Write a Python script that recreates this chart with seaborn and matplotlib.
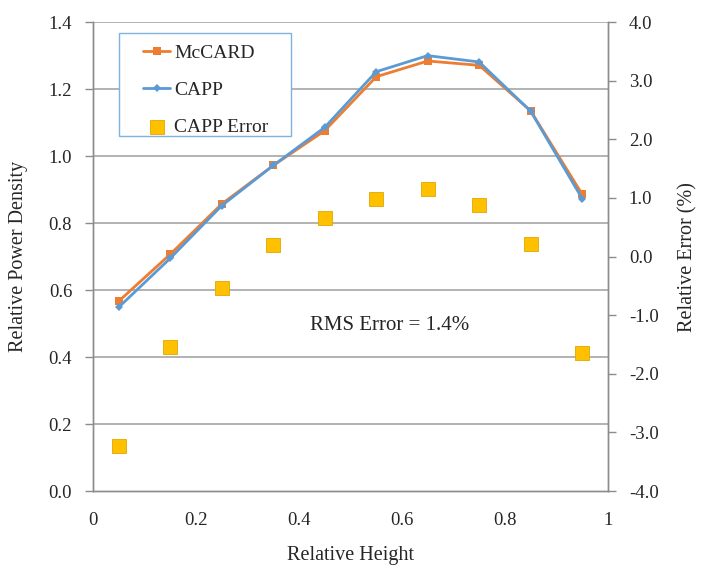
import matplotlib
matplotlib.use('Agg')
import numpy as np
import pandas as pd
import matplotlib.pyplot as plt
import seaborn as sns
from matplotlib.patches import Rectangle

# data
height = [0.05, 0.15, 0.25, 0.35, 0.45, 0.55, 0.65, 0.75, 0.85, 0.95]
mccard = [0.567, 0.707, 0.857, 0.972, 1.076, 1.237, 1.284, 1.271, 1.135, 0.886]
capp = [0.549, 0.695, 0.852, 0.972, 1.086, 1.252, 1.300, 1.281, 1.134, 0.873]
capp_err = [-3.23, -1.54, -0.53, 0.19, 0.65, 0.99, 1.16, 0.88, 0.21, -1.64]

sns.set_style("white")
plt.rcParams['font.family'] = ['Liberation Serif', 'DejaVu Serif']

df = pd.DataFrame({'x': height, 'McCARD': mccard, 'CAPP': capp, 'err': capp_err})

grid_c = '#a6a6a6'
spine_c = '#8c8c8c'

fig = plt.figure(figsize=(7.02, 5.75), dpi=100)
ax = fig.add_axes([0.1325, 0.146, 0.7335, 0.8155])
ax2 = ax.twinx()

sns.lineplot(data=df, x='x', y='McCARD', ax=ax, color='#ED7D31', marker='s',
             markersize=6, markeredgewidth=0, linewidth=2, label='McCARD', legend=False)
sns.lineplot(data=df, x='x', y='CAPP', ax=ax, color='#5B9BD5', marker='D',
             markersize=4.5, markeredgewidth=0, linewidth=2, label='CAPP', legend=False)
sns.scatterplot(data=df, x='x', y='err', ax=ax2, color='#FFC000', marker='s',
                s=90, edgecolor='#E0A800', linewidth=0.6, label='CAPP Error', legend=False)

ax.set_xlim(0, 1)
ax.set_ylim(0, 1.4)
ax2.set_ylim(-4, 4)
ax.set_xticks(np.arange(0, 1.01, 0.2))
ax.set_xticklabels(['0', '0.2', '0.4', '0.6', '0.8', '1'])
ax.set_yticks(np.arange(0, 1.41, 0.2))
ax.set_yticklabels([f'{v:.1f}' for v in np.arange(0, 1.41, 0.2)])
ax2.set_yticks(np.arange(-4, 4.01, 1))
ax2.set_yticklabels([f'{v:.1f}' for v in np.arange(-4, 4.01, 1)])

for v in np.arange(0.2, 1.41, 0.2):
    ax.axhline(v, color=grid_c, linewidth=1.2, zorder=0)

for a in (ax, ax2):
    for s in a.spines.values():
        s.set_color(spine_c)
        s.set_linewidth(1.0)
    a.spines['top'].set_visible(False)
ax.tick_params(axis='both', labelsize=13.5, color=spine_c, length=6, width=1)
ax.tick_params(axis='x', direction='inout', length=8, pad=11)
ax.tick_params(axis='y', direction='out', pad=9)
ax2.tick_params(axis='y', labelsize=13.5, color=spine_c, direction='out', length=6, width=1, pad=9)

ax.set_xlabel('Relative Height', fontsize=14.5, labelpad=12)
ax.set_ylabel('Relative Power Density', fontsize=14.5, labelpad=15)
ax2.set_ylabel('Relative Error (%)', fontsize=14.5, labelpad=14)

ax.text(0.577, 0.495, 'RMS Error = 1.4%', fontsize=15, ha='center', va='center')

# legend box drawn separately (Excel-style wide padding)
ax2.add_patch(Rectangle((0.0505, 0.757), 0.334, 0.22, transform=ax2.transAxes,
                        facecolor='white', edgecolor='#7FB2DC', linewidth=1.0, zorder=3))
h1, l1 = ax.get_legend_handles_labels()
h2, l2 = ax2.get_legend_handles_labels()
leg = ax2.legend(h1 + h2, l1 + l2, loc='upper left', bbox_to_anchor=(0.097, 0.953),
                 fontsize=14, frameon=False, borderpad=0, labelspacing=1.0,
                 handlelength=1.4, handletextpad=0.2, borderaxespad=0)
leg.set_zorder(5)

fig.savefig('out.png', dpi=100)
